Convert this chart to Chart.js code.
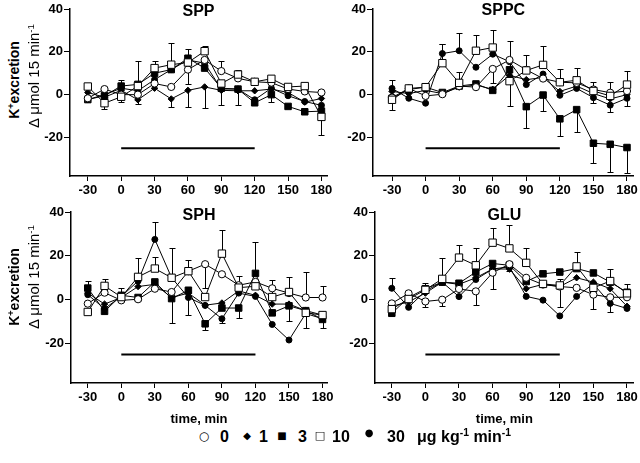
<!DOCTYPE html>
<html>
<head>
<meta charset="utf-8">
<script src="https://cdn.jsdelivr.net/npm/chart.js@4.4.0/dist/chart.umd.min.js"></script>
<style>
  body{margin:0;background:#fff;width:640px;height:463px;position:relative;overflow:hidden;font-family:Arial,"Liberation Sans",sans-serif;color:#000}
  canvas{position:absolute}
  .ylab{position:absolute;white-space:nowrap;transform:translate(-50%,-50%) rotate(-90deg)}
  .ylab1{font-weight:bold;font-size:14px}
  .ylab2{font-size:15px}
  sup{font-size:65%;vertical-align:0;position:relative;top:-0.55em}
  .lg{position:absolute;top:428px;line-height:18px;font-weight:bold;font-size:16px;white-space:nowrap}
  .mk{position:absolute;top:436px;transform:translate(-50%,-50%);font-size:12px;line-height:12px;font-family:"DejaVu Sans",sans-serif}
</style>
</head>
<body>
<canvas id="c-spp" width="315" height="200" style="left:25px;top:0px"></canvas>
<canvas id="c-sppc" width="312" height="200" style="left:328px;top:0px"></canvas>
<canvas id="c-sph" width="314" height="224" style="left:26px;top:203px"></canvas>
<canvas id="c-glu" width="310" height="224" style="left:330px;top:203px"></canvas>

<div class="ylab ylab1" style="left:14px;top:80px">K<sup>+</sup>excretion</div>
<div class="ylab ylab2" style="left:33px;top:76px">Δ μmol 15 min<sup>-1</sup></div>
<div class="ylab ylab1" style="left:14px;top:287px">K<sup>+</sup>excretion</div>
<div class="ylab ylab2" style="left:33px;top:277px">Δ μmol 15 min<sup>-1</sup></div>

<span class="mk" style="left:204px">○</span><span class="lg" style="left:220px">0</span>
<span class="mk" style="left:247px;font-size:10px">◆</span><span class="lg" style="left:259px">1</span>
<span class="mk" style="left:282px;font-size:10px">■</span><span class="lg" style="left:298px">3</span>
<span class="mk" style="left:320px;font-size:11px">□</span><span class="lg" style="left:332px">10</span>
<span class="mk" style="left:369px;top:433px;font-size:10px">●</span><span class="lg" style="left:387px">30</span>
<span class="lg" style="left:417px">μg kg<sup>-1</sup> min<sup>-1</sup></span>

<script>
(() => {
  // sampling times (min) and axis ticks
  const times = [-30, -15, 0, 15, 30, 45, 60, 75, 90, 105, 120, 135, 150, 165, 180];
  const xTicks = [-30, 0, 30, 60, 90, 120, 150, 180];
  const yTicks = [40, 20, 0, -20];
  const infusionX = [0, 120];
  const infusionY = -25;

  // SPP
  const spp0  = [-1.7, 2.6, 0, 0, 5.2, 3.6, 11.7, 16.2, 11, 7.6, 6, 5.6, 2.6, 1.5, 1];
  const spp1  = [1, -1.2, 2, -2.4, 3, -2, 2, 3.6, 2, 1.8, 1.8, 2.6, 1, -3.5, -1.8];
  const spp3  = [-2.3, -0.5, 4, 4.8, 10, 11.7, 17, 12.4, 3, 2.6, -3.8, 0, -5.5, -8, -7.7];
  const spp10 = [3.8, -4, -1, 4, 12.4, 14, 15, 20.3, 5.2, 9.4, 6, 7.4, 3.6, 4, -10.4];
  const spp30 = [-2.3, 0, 3, 1.8, 7, 11.7, 16.2, 14.7, 2.6, 2.6, -2.4, 3, -0.5, -3.2, -5];
  const spp0Err  = [0, 0, -3.5, 0, 0, 0, -6.7, 0, 4.5, 0, 0, 0, 0, 0, 0];
  const spp1Err  = [0, 0, 0, -2, 0, -4, -7.8, -10, -7, -6.8, 0, 0, 0, 0, 0];
  const spp3Err  = [0, 0, 3, 0, 0, 0, 4.5, 0, 0, 0, 0, -3.5, 0, 0, 0];
  const spp10Err = [0, -2.5, 0, 0, 3.3, 10, 0, 2.2, 0, 2.3, 0, 0, 0, 0, -8.6];
  const spp30Err = [0, 0, 0, 13.7, 0, 0, 0, 0, 0, 0, 0, 0, 0, 0, 0];

  // SPPC
  const sppc0  = [-1.4, 2.9, -0.6, 0.2, 4, 3.5, 12, 16.2, 11.6, 7.5, 5.8, 5.5, 2.4, 0.9, 1.7];
  const sppc1  = [1.5, 0.5, 2, 0.5, 3.5, 4.5, 2.5, 9, 7, 8, 1.5, 4, 0.5, -2, 0];
  const sppc3  = [-1.7, 2.4, 3.5, 1, 4, 5, 2, 11.6, -5.6, -0.2, -11.3, -7, -22.7, -23.2, -24.7];
  const sppc10 = [-2.4, 2.9, 3.5, 14.7, 5.5, 20.5, 22, 6.3, 11.3, 13.9, 5.8, 6.7, 1.7, -0.6, 4.7];
  const sppc30 = [2.9, -1.7, -4, 19.2, 20.5, 12.8, 18.9, 15.4, 4.7, 9.6, -0.3, 2.9, -1.4, -4.9, -1.7];
  const sppc0Err  = [0, 0, 0, 0, 0, 0, -6.5, 0, 0, 0, 0, 0, 0, 0, 0];
  const sppc1Err  = [0, 0, 0, 0, 0, 0, 0, 0, 0, 0, 0, 0, 0, 0, 0];
  const sppc3Err  = [0, 0, 1.2, 0, 0, 0, 0, -16.8, -9.8, -7.3, -8.1, -10.4, -9.3, -12.8, -11.8];
  const sppc10Err = [-5, 0, 0, 8.8, 5, 7.5, 8, 18.7, 7.2, 8.7, 6.1, 5.7, 4, 6.4, 6.4];
  const sppc30Err = [3.8, 0, 0, 4.3, 8.2, 0, 0, 0, 0, 0, 0, 0, -2.5, -3, -3.5];

  // SPH
  const sph0  = [-1.8, 3.2, -0.3, 0.2, 5, 3.5, 13, 16.2, 11.6, 6.6, 8.1, 5.2, 3, 1, 1];
  const sph1  = [3, -2, 1, 6, 7, 1, 3, -2.5, -1.5, 4, 2, -2, -2, -5, -7];
  const sph3  = [5.3, -5.3, 2, 1, 8.1, 0.5, 4.3, -11, -3.8, -3.8, 12, -6, -2.8, -5, -9];
  const sph10 = [-5.6, 6.3, 1.2, 10.4, 14.2, 10, 13, 1.2, 21, 5.5, 6.1, 1.2, 3.5, -6, -7];
  const sph30 = [2.3, -4.1, 1.5, 8.5, 27.5, 10, 1, -2.6, -8.7, 3, 1.5, -11.3, -18.4, -6.3, -8.7];
  const sph0Err  = [0, 0, 0, 0, 0, 0, 0, -11, 0, 0, 0, 0, 0, 11.6, 5.4];
  const sph1Err  = [0, 0, 0, 0, 0, 0, 0, 0, 0, 0, 0, 0, 0, 0, 0];
  const sph3Err  = [3.2, 0, 0, 0, 0, -11.2, -11.3, -3, 0, -4.6, 14.4, 0, -6.9, 0, -3.7];
  const sph10Err = [0, 3, 4.1, 8.8, 5.3, 13.7, 5, 0, 11, 5.5, 0, 7.8, 6.8, 0, 0];
  const sph30Err = [0, 0, 0, 0, 7.8, 0, 0, 0, -2, 0, 0, 0, 0, -6.6, 0];

  // GLU
  const glu0  = [-1.7, 2.9, -0.8, 0, 4.9, 3.8, 12.3, 16.2, 10, 6.9, 6, 5.4, 2.3, 1.1, 1.1];
  const glu1  = [-3, -1, 3, 8, 7, 10, 14, 14, 5, 7, 6, 10, 8, 5, -3];
  const glu3  = [-6.2, 1, 5, 8, 7.5, 12.6, 16.5, 15.7, 8.3, 11.8, 12.6, 14.2, 12.2, 8, 3.4];
  const glu10 = [-4.3, 0.3, 4.5, 9.5, 19.2, 15.7, 26, 23.4, 16.8, 7.2, 6.5, 15.2, 5.4, 8.5, 2.9];
  const glu30 = [5.2, -3.5, 4, 8, 1.4, 9.2, 14, 15, 1.5, -0.2, -7.4, 1.5, 7.2, -1.7, -4];
  const glu0Err  = [0, 0, -2.4, -2.8, 0, -6.1, -7.3, -3, 0, 0, -9.2, 0, -6.6, 0, 0];
  const glu1Err  = [0, 0, 0, 0, 0, 0, 0, 0, 0, 0, 0, 0, 0, 0, 0];
  const glu3Err  = [0, 0, 0, 0, 0, 0, 0, 0, 0, 0, 0, 0, 0, 0, 0];
  const glu10Err = [0, 0, 3.2, 9.7, 5.8, 7.7, 6.6, 10.6, 7, 0, 3, 6.6, 0, 5.3, 4.3];
  const glu30Err = [4.6, 0, 0, 0, 0, 0, 0, 0, 0, 0, 0, 0, 0, -3.8, 0];

  const FONT = 'Arial, "Liberation Sans", sans-serif';

  // marker look for each dose
  const markers = {
    '0':  { pointStyle: 'circle',  radius: 3.6, fill: '#fff' },
    '1':  { pointStyle: 'rectRot', radius: 3.2, fill: '#000' },
    '3':  { pointStyle: 'rect',    radius: 4.6, fill: '#000' },
    '10': { pointStyle: 'rect',    radius: 5.2, fill: '#fff' },
    '30': { pointStyle: 'circle',  radius: 3.0, fill: '#000' }
  };

  // vertical one-sided error bars, drawn under the markers
  const errorBars = {
    id: 'errorBars',
    beforeDatasetsDraw(chart){
      const ctx = chart.ctx, xs = chart.scales.x, ys = chart.scales.y;
      ctx.save();
      ctx.strokeStyle = '#000';
      ctx.lineWidth = 1;
      chart.data.datasets.forEach(ds => {
        if(!ds.errors) return;
        ds.data.forEach((p, i) => {
          const e = ds.errors[i];
          if(!e) return;
          const px = Math.round(xs.getPixelForValue(p.x)) + 0.5;
          const p0 = ys.getPixelForValue(p.y);
          const p1 = Math.round(ys.getPixelForValue(p.y + e)) + 0.5;
          ctx.beginPath();
          ctx.moveTo(px, p0); ctx.lineTo(px, p1);
          ctx.moveTo(px - 3, p1); ctx.lineTo(px + 3, p1);
          ctx.stroke();
        });
      });
      ctx.restore();
    }
  };

  // panel label drawn inside the plot, top centre
  const panelTitle = {
    id: 'panelTitle',
    afterDraw(chart, args, opts){
      const a = chart.chartArea, ctx = chart.ctx;
      ctx.save();
      ctx.fillStyle = '#000';
      ctx.font = 'bold 16px ' + FONT;
      ctx.textAlign = 'center';
      ctx.textBaseline = 'middle';
      ctx.fillText(opts.text, (a.left + a.right) / 2, a.top + opts.dy);
      ctx.restore();
    }
  };

  function series(dose, vals, errs){
    const m = markers[dose];
    return {
      label: dose,
      data: times.map((t, i) => ({ x: t, y: vals[i] })),
      errors: errs,
      borderColor: '#000',
      borderWidth: 1,
      pointStyle: m.pointStyle,
      pointRadius: m.radius,
      pointBackgroundColor: m.fill,
      pointBorderColor: '#000',
      pointBorderWidth: 1,
      tension: 0,
      fill: false
    };
  }

  function makePanel(id, title, sets, o){
    const ctx = document.getElementById(id).getContext('2d');
    const datasets = [
      series('10', sets[3], sets[8]),
      series('0',  sets[0], sets[5]),
      series('3',  sets[2], sets[7]),
      series('1',  sets[1], sets[6]),
      series('30', sets[4], sets[9]),
      {
        label: 'infusion',
        data: infusionX.map(x => ({ x, y: infusionY })),
        borderColor: '#000',
        borderWidth: 2,
        pointRadius: 0
      }
    ];
    return new Chart(ctx, {
      type: 'line',
      data: { datasets },
      plugins: [errorBars, panelTitle],
      options: {
        responsive: false,
        animation: false,
        layout: { padding: { top: 9, right: o.padRight, left: 0, bottom: 0 } },
        plugins: {
          legend: { display: false },
          tooltip: { enabled: false },
          panelTitle: { text: title, dy: o.titleDy }
        },
        scales: {
          x: {
            type: 'linear',
            min: o.xmin, max: o.xmax,
            afterBuildTicks: s => { s.ticks = xTicks.map(v => ({ value: v })); },
            afterFit: s => { s.height = o.xHeight; },
            grid: { display: true, drawOnChartArea: false, drawTicks: true, tickLength: 5, color: '#000', lineWidth: 1 },
            border: { display: true, color: '#000', width: 1.5 },
            ticks: { color: '#000', font: { family: FONT, size: 13, weight: 'bold' }, padding: 2, maxRotation: 0, autoSkip: false },
            title: {
              display: !!o.xTitle, text: 'time, min', color: '#000',
              font: { family: FONT, size: 13, weight: 'bold' }, padding: { top: 0, bottom: 0 }
            }
          },
          y: {
            min: -38, max: 40,
            afterBuildTicks: s => { s.ticks = yTicks.map(v => ({ value: v })); },
            afterFit: s => { s.width = 45; },
            grid: { display: true, drawOnChartArea: false, drawTicks: true, tickLength: 6, color: '#000', lineWidth: 1 },
            border: { display: true, color: '#000', width: 1.5 },
            ticks: { color: '#000', font: { family: FONT, size: 13, weight: 'bold' }, padding: 1 }
          }
        }
      }
    });
  }

  makePanel('c-spp', 'SPP',
    [spp0, spp1, spp3, spp10, spp30, spp0Err, spp1Err, spp3Err, spp10Err, spp30Err],
    { xmin: -46, xmax: 185, padRight: 13, xHeight: 24, titleDy: 3 });
  makePanel('c-sppc', 'SPPC',
    [sppc0, sppc1, sppc3, sppc10, sppc30, sppc0Err, sppc1Err, sppc3Err, sppc10Err, sppc30Err],
    { xmin: -47, xmax: 186, padRight: 5, xHeight: 24, titleDy: 2 });
  makePanel('c-sph', 'SPH',
    [sph0, sph1, sph3, sph10, sph30, sph0Err, sph1Err, sph3Err, sph10Err, sph30Err],
    { xmin: -45, xmax: 184, padRight: 13, xHeight: 44, titleDy: 4, xTitle: true });
  makePanel('c-glu', 'GLU',
    [glu0, glu1, glu3, glu10, glu30, glu0Err, glu1Err, glu3Err, glu10Err, glu30Err],
    { xmin: -45, xmax: 186, padRight: 5, xHeight: 44, titleDy: 4, xTitle: true });
})();
</script>
</body>
</html>
